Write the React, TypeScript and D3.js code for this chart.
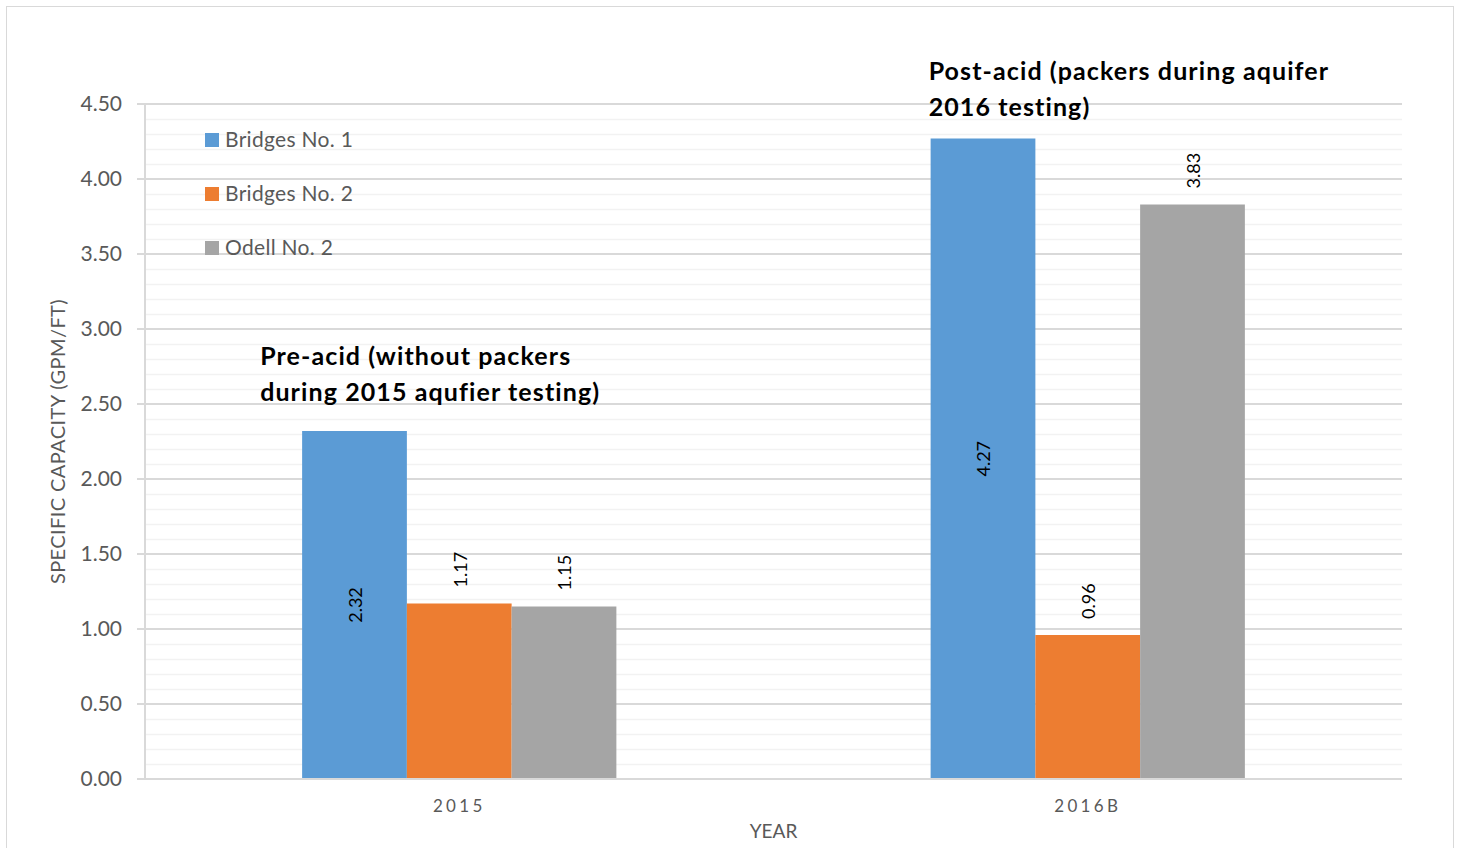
import React from "react";
import * as d3 from "d3";

const categories = ["2015", "2016B"];
const seriesNames = ["Bridges No. 1", "Bridges No. 2", "Odell No. 2"];
const seriesColors = ["#5b9bd5", "#ed7d31", "#a5a5a5"];
const bridges1 = [2.32, 4.27];
const bridges2 = [1.17, 0.96];
const odell2 = [1.15, 3.83];
const labelInside = [true, false, false];
const yTicks = [0, 0.5, 1, 1.5, 2, 2.5, 3, 3.5, 4, 4.5];
const annotations = [
  { cat: "2015", value: 2.76, shift: -42, lines: ["Pre-acid (without packers", "during 2015 aqufier testing)"] },
  { cat: "2016B", value: 4.66, shift: -2, lines: ["Post-acid (packers during aquifer", "2016 testing)"] },
];

const W = 1460;
const H = 848;
const m = { left: 145, right: 1402, top: 104, bottom: 779 };
const FONT = "Lato, 'Open Sans', sans-serif";

export default function App() {
  const values = [bridges1, bridges2, odell2];
  const x = d3.scaleBand<string>().domain(categories).range([m.left, m.right]).paddingInner(0.5).paddingOuter(0.25);
  const inner = d3.scaleBand<number>().domain([0, 1, 2]).range([0, x.bandwidth()]);
  const y = d3.scaleLinear().domain([0, 4.5]).range([m.bottom, m.top]);
  const minor = d3.range(0, 4.51, 0.1).map((v) => Math.round(v * 10) / 10).filter((v) => !yTicks.some((t) => Math.abs(t - v) < 1e-6));

  return (
    <svg width={W} height={H} style={{ position: "absolute", left: 0, top: 0, background: "#fff" }} fontFamily={FONT}>
      <rect x={6.5} y={6.5} width={1447} height={860} fill="#fff" stroke="#d9d9d9" strokeWidth={1} />
      {minor.map((v) => (
        <line key={"mn" + v} x1={m.left} x2={m.right} y1={Math.round(y(v)) + 0.5} y2={Math.round(y(v)) + 0.5} stroke="#f2f2f2" strokeWidth={1.5} />
      ))}
      {yTicks.map((v) => (
        <g key={"t" + v}>
          <line x1={m.left - 8} x2={m.right} y1={y(v)} y2={y(v)} stroke="#d9d9d9" strokeWidth={2} />
          <text x={122} y={y(v)} dy="0.35em" textAnchor="end" fontSize={21} fill="#595959">
            {v.toFixed(2)}
          </text>
        </g>
      ))}
      <line x1={m.left} x2={m.left} y1={m.top} y2={m.bottom} stroke="#d9d9d9" strokeWidth={2} />
      {categories.map((c, ci) =>
        values.map((arr, si) => {
          const v = arr[ci];
          const bx = (x(c) as number) + (inner(si) as number);
          const bw = inner.bandwidth();
          const cx = bx + bw / 2;
          const ly = labelInside[si] ? y(v / 2) : y(v) - 16;
          return (
            <g key={c + si}>
              <rect x={bx} y={y(v)} width={bw} height={y(0) - y(v)} fill={seriesColors[si]} />
              <text
                transform={`translate(${cx + 1},${ly}) rotate(-90)`}
                textAnchor={labelInside[si] ? "middle" : "start"}
                dy="0.35em"
                fontSize={18}
                fill="#000"
              >
                {v.toFixed(2)}
              </text>
            </g>
          );
        })
      )}
      <line x1={m.left} x2={m.right} y1={y(0)} y2={y(0)} stroke="#d9d9d9" strokeWidth={2} />
      {categories.map((c) => (
        <text key={"x" + c} x={(x(c) as number) + x.bandwidth() / 2} y={812} textAnchor="middle" fontSize={17} fill="#595959" letterSpacing={3.3}>
          {c}
        </text>
      ))}
      <text x={(m.left + m.right) / 2} y={838} textAnchor="middle" fontSize={19} fill="#595959">
        YEAR
      </text>
      <text transform={`translate(65,${(m.top + m.bottom) / 2}) rotate(-90)`} textAnchor="middle" fontSize={20} letterSpacing={0.4} fill="#595959">
        SPECIFIC CAPACITY (GPM/FT)
      </text>
      {seriesNames.map((n, i) => (
        <g key={n} transform={`translate(205,${140 + i * 54})`}>
          <rect x={0} y={-7} width={14} height={14} fill={seriesColors[i]} />
          <text x={20} y={0} dy="0.35em" fontSize={21} letterSpacing={0.3} fill="#595959">
            {n}
          </text>
        </g>
      ))}
      {annotations.map((a) => (
        <text key={a.cat} y={y(a.value)} fontSize={25} fontWeight={700} letterSpacing={1.1} fill="#000">
          {a.lines.map((l, i) => (
            <tspan key={i} x={(x(a.cat) as number) + a.shift} dy={i === 0 ? 0 : 35.5}>
              {l}
            </tspan>
          ))}
        </text>
      ))}
    </svg>
  );
}
